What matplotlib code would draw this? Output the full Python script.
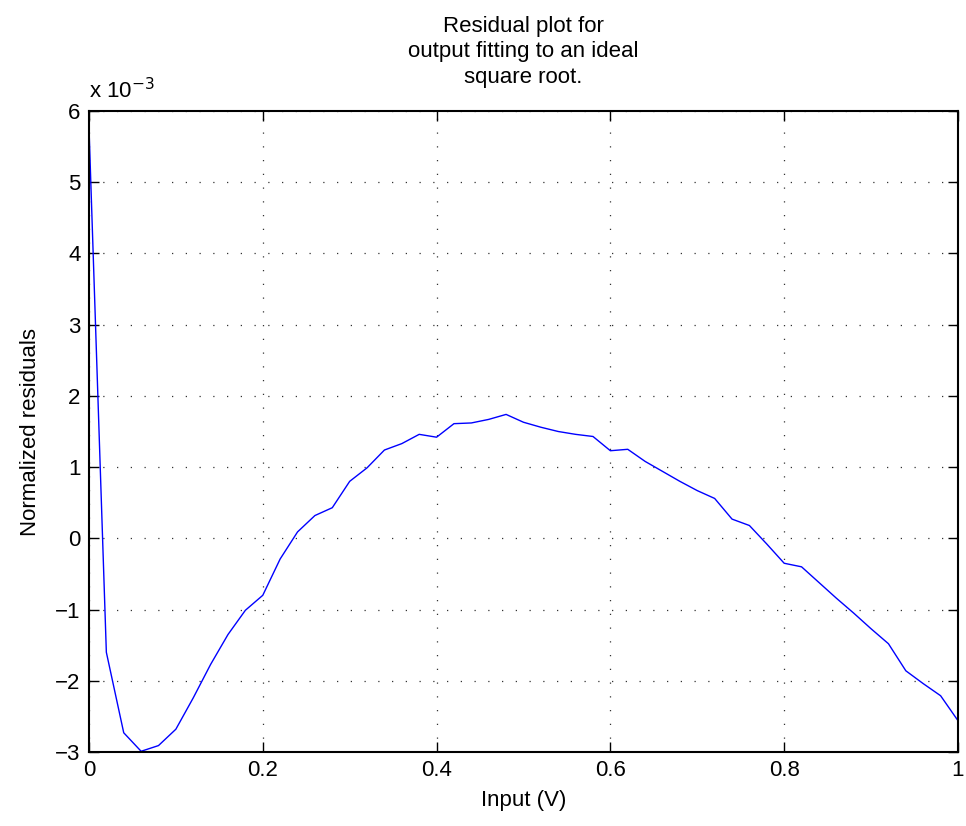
import matplotlib
matplotlib.use("Agg")
import matplotlib.pyplot as plt
import numpy as np

plt.rcParams['font.family'] = ['Liberation Sans', 'DejaVu Sans']

# input voltage (normalised) and residuals in units of 1e-3
x_input = [0.00, 0.02, 0.04, 0.06, 0.08, 0.10, 0.12, 0.14, 0.16, 0.18,
           0.20, 0.22, 0.24, 0.26, 0.28, 0.30, 0.32, 0.34, 0.36, 0.38,
           0.40, 0.42, 0.44, 0.46, 0.48, 0.50, 0.52, 0.54, 0.56, 0.58,
           0.60, 0.62, 0.64, 0.66, 0.68, 0.70, 0.72, 0.74, 0.76, 0.78,
           0.80, 0.82, 0.84, 0.86, 0.88, 0.90, 0.92, 0.94, 0.96, 0.98, 1.00]
residuals = [5.78, -1.60, -2.73, -2.99, -2.91, -2.68, -2.24, -1.77, -1.35, -1.01,
             -0.80, -0.29, 0.09, 0.32, 0.43, 0.80, 0.99, 1.24, 1.33, 1.46,
             1.42, 1.61, 1.62, 1.67, 1.74, 1.63, 1.56, 1.50, 1.46, 1.43,
             1.23, 1.25, 1.08, 0.94, 0.80, 0.67, 0.56, 0.27, 0.18, -0.08,
             -0.35, -0.40, -0.62, -0.84, -1.05, -1.27, -1.48, -1.86, -2.04, -2.21, -2.56]

x_ticks = [0, 0.2, 0.4, 0.6, 0.8, 1.0]
x_ticklabels = ["0", "0.2", "0.4", "0.6", "0.8", "1"]
y_ticks = [-3, -2, -1, 0, 1, 2, 3, 4, 5, 6]

fig = plt.figure(figsize=(9.66, 8.26), dpi=100)
ax = fig.add_axes([0.0921, 0.0896, 0.8996, 0.776])

ax.plot(x_input, residuals, color=(0, 0, 1), lw=1.0)

ax.set_xlim(0, 1)
ax.set_ylim(-3, 6)
ax.set_xticks(x_ticks)
ax.set_xticklabels(x_ticklabels)
ax.set_yticks(y_ticks)
ax.tick_params(direction='in', length=7, width=1, labelsize=16,
               top=True, right=True, pad=6)
for s in ax.spines.values():
    s.set_linewidth(1.5)

ax.grid(True, color='#333333', linestyle=(0, (1, 10)), linewidth=0.9)

ax.set_xlabel("Input (V)", fontsize=16, labelpad=6)
ax.set_ylabel("Normalized residuals", fontsize=16, labelpad=10)
ax.set_title("Residual plot for\noutput fitting to an ideal\nsquare root.",
             fontsize=16, linespacing=1.3, pad=20)
ax.text(0.0, 1.012, "x 10$^{-3}$", transform=ax.transAxes, fontsize=16,
        ha='left', va='bottom')

fig.savefig("out.png", dpi=100)
